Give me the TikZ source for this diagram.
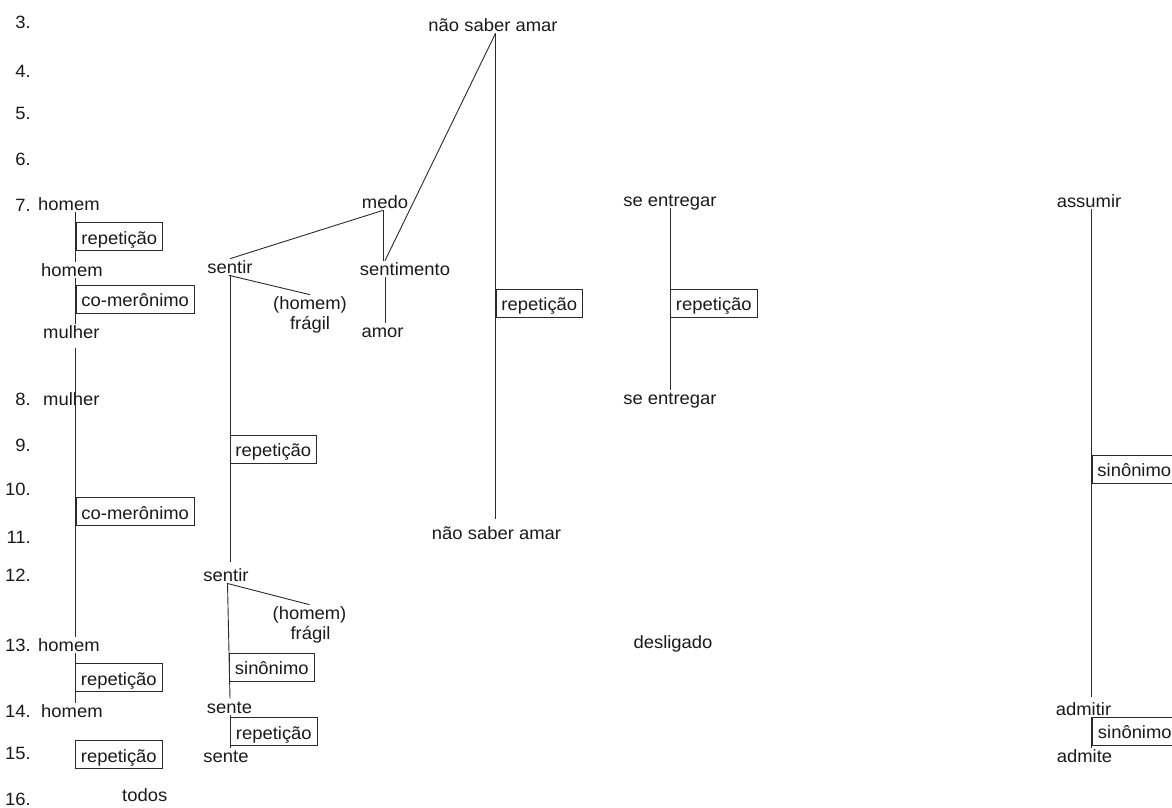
\documentclass[tikz,border=0pt]{standalone}
\usepackage{fontspec}
\setmainfont{Liberation Sans}[FakeStretch=1.035]
\definecolor{txt}{HTML}{1A1A1A}
\definecolor{ln}{HTML}{2A2A2A}
\begin{document}
\begin{tikzpicture}[x=1pt,y=-1pt,
  wd/.style={inner xsep=0pt, inner ysep=2pt, text height=12.3pt, text depth=0pt,
    font=\fontsize{17.8}{20}\selectfont, text=txt},
  lbl/.style={wd, anchor=east},
  wdw/.style={wd, anchor=west},
  rel/.style={draw=ln, line width=0.9pt, anchor=west, inner xsep=5.5pt, inner ysep=0pt,
    text height=15.5pt, text depth=0pt, minimum height=28pt,
    font=\fontsize{17.8}{20}\selectfont, text=txt},
  link/.style={draw=ln, line width=0.9pt}]
\path[use as bounding box] (0,0) rectangle (1172,807);
\clip (0,0) rectangle (1172,807);

% row numbers
\foreach \n/\y in {3/22,4/71,5/113,6/159,7/205,8/399,9/445,10/489,11/537,12/575,13/645,14/711,15/753,16/799}
  \node[lbl] (r\n) at (31,\y) {\n.};

% guide x positions
\coordinate (lxa) at (75.5,0);
\coordinate (lxs) at (230,0);
\coordinate (lxn) at (495.5,0);
\coordinate (lxe) at (670,0);
\coordinate (lxr) at (1091.5,0);

% left column
\node[wdw] (h7)  at (38,204) {homem};
\node[wdw] (h7b) at (41,270) {homem};
\node[wdw] (m7)  at (43,332) {mulher};
\node[wdw] (m8)  at (43,399) {mulher};
\node[wdw] (h13) at (38,645) {homem};
\node[wdw] (h14) at (41,711) {homem};
\node[wdw] (todos) at (122,795) {todos};

\draw[link] (h7.south -| lxa) -- (h7b.north -| lxa);
\draw[link] (h7b.south -| lxa) -- (m7.north -| lxa);
\draw[link, shorten <=8pt] (m7.south -| lxa) -- (h13.north -| lxa);
\draw[link] (h13.south -| lxa) -- (h14.north -| lxa);

\node[rel] (b1) at (75.5,236.5) {repetição};
\node[rel] (b2) at (75.5,299) {co-merônimo};
\node[rel] (b3) at (75.5,511.5) {co-merônimo};
\node[rel] (b4) at (75,677.5) {repetição};
\node[rel] (b5) at (75,754.5) {repetição};

% sentir column
\node[wd] (s7) at (230,267) {sentir};
\node[wd] (medo) at (385,202) {medo};
\node[wd] (sentimento) at (405,269) {sentimento};
\node[wd] (amor) at (382.5,331) {amor};
\node[wd] (nsa) at (493,25) {não saber amar};
\node[wd] (nsa2) at (496.5,533) {não saber amar};
\node[wd] (hf1) at (310,303) {(homem)};
\node[wd] (hf2) at (310,323) {frágil};

\draw[link] (s7.north) -- (medo.south -| 383,0);
\draw[link] (medo.south -| 383,0) -- (sentimento.north -| 383,0);
\draw[link] (sentimento.north -| 385,0) -- (nsa.south -| lxn);
\draw[link, shorten >=6pt] (nsa.south -| lxn) -- (nsa2.north -| lxn);
\draw[link] (sentimento.south -| 385,0) -- (amor.north -| 385,0);
\draw[link] (s7.south -| 229,0) -- (hf1.north);

\node[wd] (s12) at (226,575) {sentir};
\node[wd] (hf3) at (309.5,613) {(homem)};
\node[wd] (hf4) at (310.5,633) {frágil};
\node[wd] (sente1) at (229.5,707) {sente};
\node[wd] (sente2) at (226,756) {sente};

\draw[link, shorten >=5pt] (s7.south -| lxs) -- (s12.north -| lxs);
\draw[link] (s12.south -| 227,0) -- (hf3.north);
\draw[link] (s12.south -| 227.5,0) -- (sente1.north -| lxs);
\draw[link] (sente1.south -| lxs) -- (sente2.north -| lxs);

\node[rel] (b6) at (229.5,449) {repetição};
\node[rel] (b7) at (229,667) {sinônimo};
\node[rel] (b8) at (230,731.5) {repetição};

% middle columns
\node[rel] (b9) at (495.5,303) {repetição};
\node[wd] (se7) at (670,200) {se entregar};
\node[wd] (se8) at (670,398) {se entregar};
\draw[link] (se7.south -| lxe) -- (se8.north -| lxe);
\node[rel] (b10) at (670,303) {repetição};
\node[wd] (desligado) at (673,642) {desligado};

% right column
\node[wd] (assumir) at (1089,201) {assumir};
\node[wd] (admitir) at (1083.5,709) {admitir};
\node[wd] (admite) at (1084.5,756) {admite};
\draw[link, shorten >=4pt] (assumir.south -| lxr) -- (admitir.north -| lxr);
\draw[link] (admitir.south -| lxr) -- (admite.north -| lxr);
\node[rel] (b11) at (1091.5,469) {sinônimo};
\node[rel] (b12) at (1092,731) {sinônimo};
\end{tikzpicture}
\end{document}
